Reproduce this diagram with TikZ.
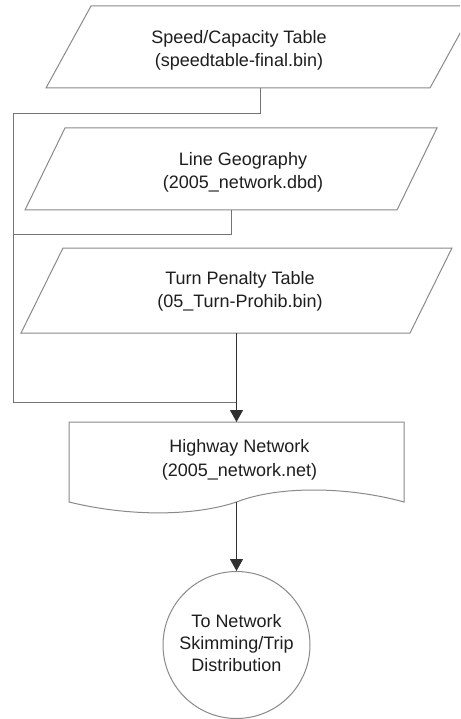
\documentclass[tikz,border=0pt]{standalone}
\usepackage{fontspec}
\setmainfont{Liberation Sans}
\usetikzlibrary{arrows.meta}
\definecolor{shapeline}{HTML}{8A8A8A}
\definecolor{connline}{HTML}{747474}
\definecolor{arrline}{HTML}{303030}
\definecolor{txt}{HTML}{1E1E1E}
\begin{document}
\begin{tikzpicture}[x=1pt,y=-1pt,
  box/.style={draw=none, rectangle, inner sep=0pt, outer sep=0pt},
  outline/.style={draw=shapeline, line width=1pt, line join=miter},
  conn/.style={draw=connline, line width=1pt},
  arr/.style={draw=arrline, line width=1pt, -{Triangle[length=12pt,width=13pt]}},
  lbl/.style={text=txt, align=center, inner sep=0pt, font=\fontsize{18}{23.4}\selectfont},
]
\useasboundingbox (0,0) rectangle (460,719);
\clip (0,0) rectangle (460,719);
\fill[white] (0,0) rectangle (460,719);

% shape frames
\node[box, minimum width=429pt, minimum height=82pt] (p1) at (260.5,47) {};
\node[box, minimum width=412pt, minimum height=82pt] (p2) at (231,169) {};
\node[box, minimum width=431pt, minimum height=85pt] (p3) at (236.5,290.5) {};
\node[box, minimum width=335pt, minimum height=80pt] (d) at (236.5,462) {};
\node[circle, draw=shapeline, line width=1pt, minimum size=147pt, lbl,
      font=\fontsize{18}{22.2}\selectfont] (c) at (236.5,645)
      {\strut To Network\\\strut Skimming/Trip\\\strut Distribution};

% parallelograms
\draw[outline] ([xshift=45pt]p1.north west) -- (p1.north east) -- ([xshift=-45pt]p1.south east) -- (p1.south west) -- cycle;
\draw[outline] ([xshift=40pt]p2.north west) -- (p2.north east) -- ([xshift=-40pt]p2.south east) -- (p2.south west) -- cycle;
\draw[outline] ([xshift=42pt]p3.north west) -- (p3.north east) -- ([xshift=-42pt]p3.south east) -- (p3.south west) -- cycle;

% document shape
\draw[outline] (d.south) .. controls (280,485) and (350,487) .. (d.south east) -- (d.north east) -- (d.north west) -- (d.south west) .. controls (130,517) and (195,516) .. (d.south);

% texts
\node[lbl] (t1) at (239,50.3) {\strut Speed/Capacity Table\\\strut (speedtable-final.bin)};
\node[lbl] (t2) at (243,172.3) {\strut Line Geography\\\strut (2005\_network.dbd)};
\node[lbl] (t3) at (240,291.5) {\strut Turn Penalty Table\\\strut (05\_Turn-Prohib.bin)};
\node[lbl] (t4) at (239.5,459.8) {\strut Highway Network\\\strut (2005\_network.net)};

% connectors
\coordinate (L1) at (13,114);
\coordinate (L2) at (13,234);
\coordinate (J) at (236.5,402);
\draw[conn] (p1.south) |- (L1);
\draw[conn] (p2.south) |- (L2);
\draw[conn] (L1) |- (J);
\draw[arr] (p3.south) -- (d.north);
\draw[arr] (d.south) -- (c.north);
\end{tikzpicture}
\end{document}
